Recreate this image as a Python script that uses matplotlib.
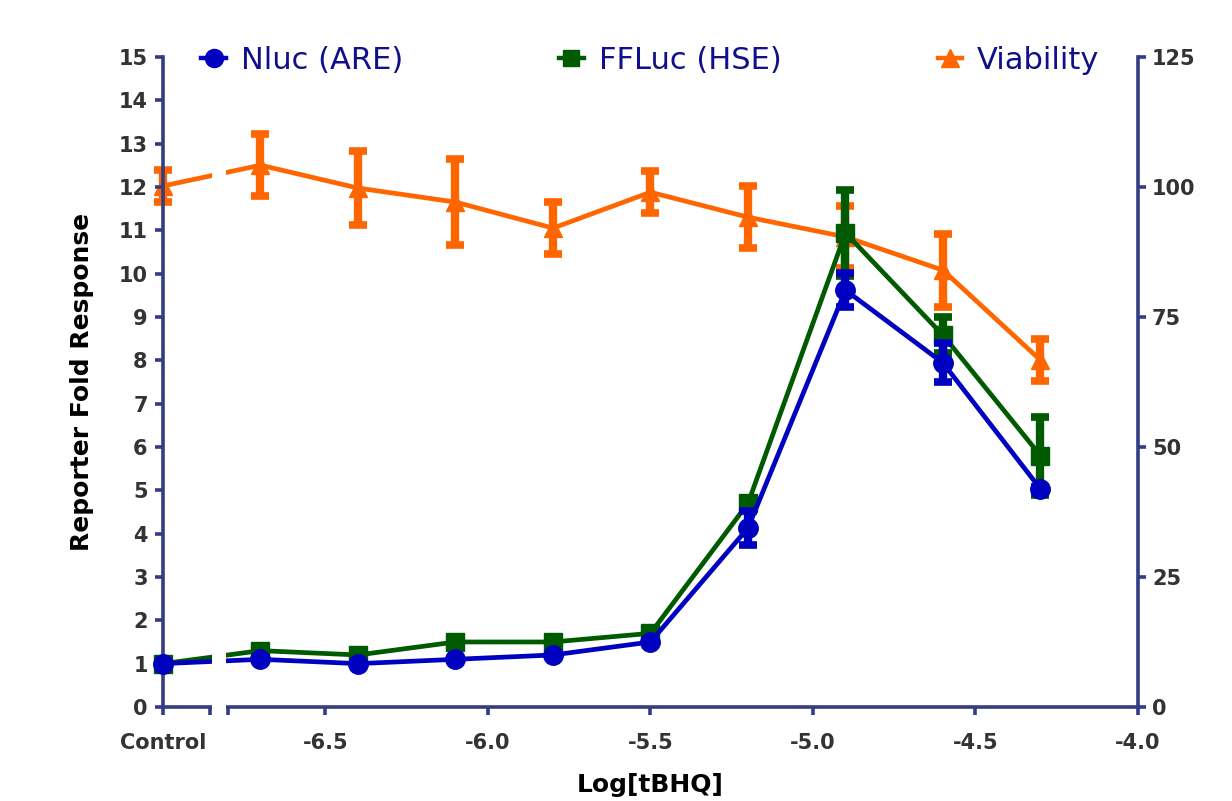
import numpy as np
import matplotlib
matplotlib.use('Agg')
import matplotlib.pyplot as plt
from matplotlib.lines import Line2D
from matplotlib.patches import Rectangle

plt.rcParams['font.family'] = ['DejaVu Sans']

# log[tBHQ]; -7.0 is the Control position on the split axis
log_conc = [-7.0, -6.7, -6.4, -6.1, -5.8, -5.5, -5.2, -4.9, -4.6, -4.3]

nluc = [1.0, 1.1, 1.0, 1.1, 1.2, 1.5, 4.13, 9.62, 7.94, 5.03]
nluc_err = [0.0, 0.0, 0.0, 0.0, 0.0, 0.0, 0.4, 0.4, 0.45, 0.05]

ffluc = [1.0, 1.3, 1.2, 1.5, 1.5, 1.7, 4.7, 10.94, 8.58, 5.8]
ffluc_err = [0.0, 0.0, 0.0, 0.0, 0.0, 0.0, 0.1, 1.0, 0.42, 0.9]

viab = [100.2, 104.2, 99.8, 97.1, 92.1, 99.0, 94.2, 90.4, 84.0, 66.7]
viab_err = [3.0, 6.0, 7.2, 8.2, 5.0, 4.0, 6.0, 6.0, 7.0, 4.0]

xtick_pos = [-7.0, -6.5, -6.0, -5.5, -5.0, -4.5, -4.0]
xtick_lab = ['Control', '-6.5', '-6.0', '-5.5', '-5.0', '-4.5', '-4.0']

c_blue = '#0000c0'
c_green = '#005a00'
c_orange = '#ff6600'
c_axis = '#343c84'
c_text = '#333333'

fig = plt.figure(figsize=(12.32, 8.01), dpi=100)
ax1 = fig.add_axes([0.1323, 0.1174, 0.7914, 0.8114])
ax2 = ax1.twinx()
ax1.set_zorder(ax2.get_zorder() + 1)
ax1.patch.set_visible(False)

eb = dict(lw=3.4, elinewidth=6, capsize=6.8, capthick=5.5, clip_on=False)
ax2.errorbar(log_conc, viab, yerr=viab_err, color=c_orange,
             marker='^', ms=13, zorder=2, **eb)
ax1.errorbar(log_conc, ffluc, yerr=ffluc_err, color=c_green,
             marker='s', ms=12.5, zorder=3, **eb)
ax1.errorbar(log_conc, nluc, yerr=nluc_err, color=c_blue,
             marker='o', ms=14, zorder=4, **eb)

ax1.set_xlim(-7.0, -4.0)
ax1.set_ylim(0, 15)
ax2.set_ylim(0, 125)
ax1.set_yticks(range(0, 16))
ax2.set_yticks([0, 25, 50, 75, 100, 125])
ax1.set_xticks(xtick_pos)
ax1.set_xticklabels(xtick_lab)
ax1.set_xticks([-6.855, -6.80], minor=True)

for ax in (ax1, ax2):
    ax.spines['top'].set_visible(False)
    for side in ('left', 'right', 'bottom'):
        ax.spines[side].set_color(c_axis)
        ax.spines[side].set_linewidth(2.6)
ax1.spines['right'].set_visible(False)
ax2.spines['left'].set_visible(False)
ax2.spines['bottom'].set_visible(False)

ax1.tick_params(axis='y', which='both', direction='out', color=c_axis,
                width=2.6, length=6, labelcolor=c_text, labelsize=15, pad=5)
ax1.tick_params(axis='x', which='both', direction='out', color=c_axis,
                width=2.6, length=6, labelcolor=c_text, labelsize=15, pad=13)
ax2.tick_params(axis='y', direction='out', color=c_axis, width=2.6,
                length=6, labelcolor=c_text, labelsize=15, pad=4)
for lab in ax1.get_xticklabels() + ax1.get_yticklabels() + ax2.get_yticklabels():
    lab.set_fontweight('bold')

# axis break between Control and the dose segment
ax1.add_patch(Rectangle((-6.848, -0.6), 0.042, 14.0, facecolor='white',
                        edgecolor='none', transform=ax1.transData,
                        clip_on=False, zorder=10))

ax1.set_ylabel('Reporter Fold Response', fontsize=18, fontweight='bold',
               color='black', labelpad=18)
ax1.set_xlabel('Log[tBHQ]', fontsize=18, fontweight='bold', color='black',
               labelpad=14)

handles = [
    Line2D([], [], color=c_blue, marker='o', ms=13, lw=3.2),
    Line2D([], [], color=c_green, marker='s', ms=12, lw=3.2),
    Line2D([], [], color=c_orange, marker='^', ms=13, lw=3.2),
]
leg = ax1.legend(handles, ['Nluc (ARE)', 'FFLuc (HSE)', 'Viability'],
                 loc='center', bbox_to_anchor=(0.5, 0.995), ncol=3,
                 frameon=False, handlelength=0.8, handletextpad=0.5,
                 columnspacing=5.1, prop={'size': 22})
leg.set_zorder(20)
for t in leg.get_texts():
    t.set_color('#10108a')

fig.savefig('out.png', dpi=100)
